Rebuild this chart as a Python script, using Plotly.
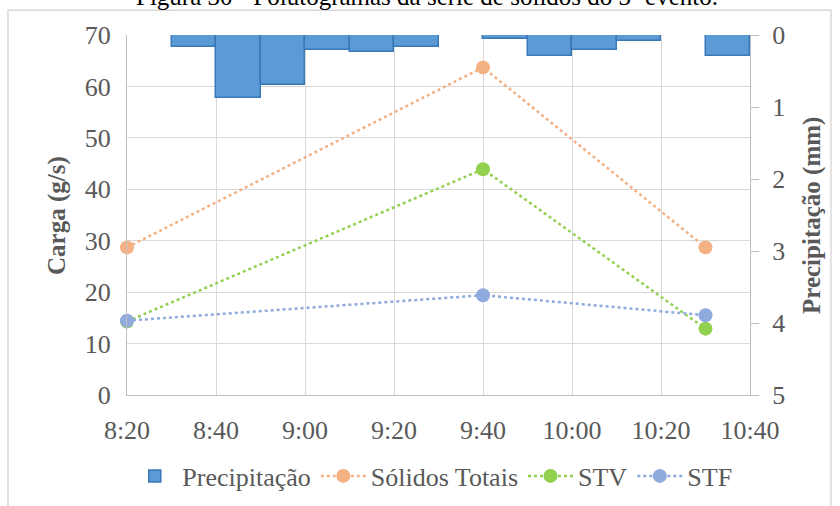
import plotly.graph_objects as go

# Date used to anchor the clock times on a date axis
DAY = "2019-01-01 "

# Rainfall in 10-minute intervals (centre of each interval) in mm
rain_time = ["08:35", "08:45", "08:55", "09:05", "09:15", "09:25", "09:35",
             "09:45", "09:55", "10:05", "10:15", "10:25", "10:35"]
rain_mm = [0.17, 0.88, 0.69, 0.21, 0.24, 0.17, 0.0,
           0.05, 0.29, 0.21, 0.09, 0.0, 0.29]

# Solids load samples (g/s)
sample_time = ["08:20", "09:40", "10:30"]
solidos_totais = [28.7, 63.7, 28.7]
stv = [14.3, 43.9, 12.9]
stf = [14.45, 19.4, 15.5]

# Axis ticks
x_start, x_end = "08:20", "10:40"
left_ticks = [0, 10, 20, 30, 40, 50, 60, 70]
right_ticks = [0, 1, 2, 3, 4, 5]

FONT = "Liberation Serif"
TXT = "#595959"
GRID = "#d9d9d9"
AXIS = "#bfbfbf"
TICK_SIZE = 26
TITLE_SIZE = 25

fig = go.Figure()

fig.add_trace(go.Bar(
    x=[DAY + t for t in rain_time], y=rain_mm, yaxis="y2",
    width=10 * 60 * 1000, name="Precipitação",
    marker=dict(color="#5b9bd5", line=dict(color="#3a78b8", width=1.5)),
))

series = [
    ("Sólidos Totais", solidos_totais, "#f4b183"),
    ("STV", stv, "#92d050"),
    ("STF", stf, "#8faadc"),
]
for name, vals, col in series:
    fig.add_trace(go.Scatter(
        x=[DAY + t for t in sample_time], y=vals, name=name,
        mode="lines+markers",
        line=dict(color=col, width=2.5, dash="dot"),
        marker=dict(color=col, size=14),
        cliponaxis=False,
    ))

fig.update_layout(
    width=840, height=506,
    margin=dict(l=127, r=90, t=35, b=111, autoexpand=False),
    paper_bgcolor="white", plot_bgcolor="white",
    font=dict(family=FONT, size=TICK_SIZE, color=TXT),
    bargap=0,
    showlegend=True,
    legend=dict(orientation="h", x=0.49, xanchor="center", y=-0.225,
                yanchor="middle", font=dict(size=TICK_SIZE, color=TXT),
                traceorder="normal", itemwidth=45),
    xaxis=dict(
        type="date",
        range=[DAY + x_start, DAY + x_end],
        tick0=DAY + x_start, dtick=20 * 60 * 1000,
        tickformat="%-H:%M",
        showgrid=True, gridcolor=GRID, gridwidth=1,
        showline=True, linecolor=AXIS, linewidth=1,
        ticks="", ticklabelstandoff=12,
        tickfont=dict(size=TICK_SIZE, color=TXT),
    ),
    yaxis=dict(
        range=[0, 70], tickvals=left_ticks,
        showgrid=True, gridcolor=GRID, gridwidth=1,
        showline=True, linecolor=AXIS, linewidth=1,
        ticks="", zeroline=False, ticklabelstandoff=10,
        tickfont=dict(size=TICK_SIZE, color=TXT),
    ),
    yaxis2=dict(
        overlaying="y", side="right",
        range=[5, 0], tickvals=right_ticks,
        showgrid=False, zeroline=False,
        showline=True, linecolor=AXIS, linewidth=1,
        ticks="outside", ticklen=8, tickcolor=AXIS, ticklabelstandoff=8,
        tickfont=dict(size=TICK_SIZE, color=TXT),
    ),
)

# Axis titles
fig.add_annotation(text="<b>Carga (g/s)</b>", xref="paper", yref="paper",
                   x=-0.1124, y=0.5, xanchor="center", yanchor="middle",
                   textangle=-90, showarrow=False,
                   font=dict(size=TITLE_SIZE, color=TXT, family=FONT))
fig.add_annotation(text="<b>Precipitação (mm)</b>", xref="paper", yref="paper",
                   x=1.0995, y=0.5, xanchor="center", yanchor="middle",
                   textangle=-90, showarrow=False,
                   font=dict(size=TITLE_SIZE, color=TXT, family=FONT))

# Outer chart frame
fig.add_shape(type="rect", xref="paper", yref="paper",
              x0=-0.191, x1=1.13, y0=-0.34, y1=1.069,
              line=dict(color=GRID, width=1.5), layer="below")

# Caption line above the chart frame
fig.add_annotation(
    text="Figura 30 - Polutogramas da série de sólidos do 3º evento.",
    xref="paper", yref="paper", x=0.4815, y=1.064,
    xanchor="center", yanchor="bottom", showarrow=False,
    font=dict(family=FONT, size=25, color="#000000"),
)

fig.write_html("out.html")
